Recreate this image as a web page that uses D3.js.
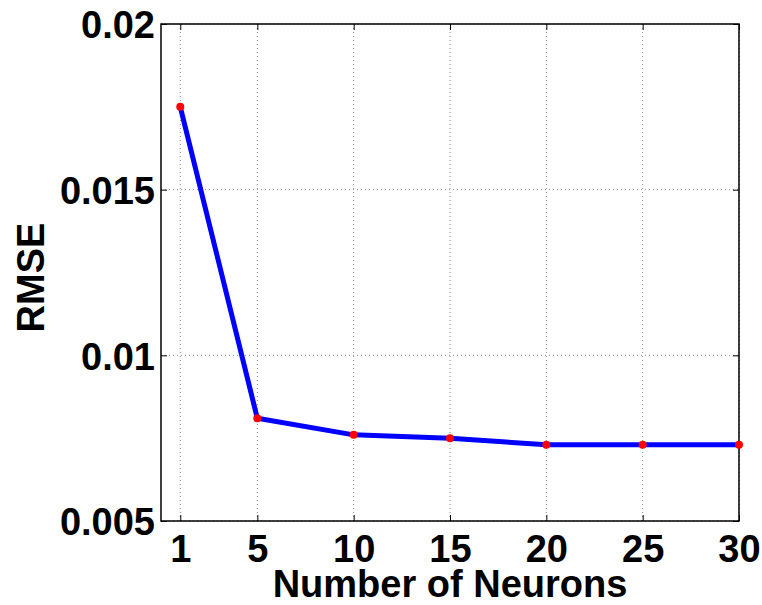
<!DOCTYPE html>
<html>
<head>
<meta charset="utf-8">
<script src="https://cdn.jsdelivr.net/npm/d3@7"></script>
<style>
  html, body { margin: 0; padding: 0; background: #fff; }
  svg text { font-family: "Liberation Sans", Arial, Helvetica, sans-serif; font-weight: bold; fill: #000; }
</style>
</head>
<body>
<svg id="chart" width="762" height="605"></svg>
<script>
// RMSE versus hidden-layer size
const neurons = [1, 5, 10, 15, 20, 25, 30];
const rmse = [0.0175, 0.0081, 0.0076, 0.0075, 0.0073, 0.0073, 0.0073];
const xTicks = [1, 5, 10, 15, 20, 25, 30];
const yTicks = [0.005, 0.01, 0.015, 0.02];
const yTickLabels = ["0.005", "0.01", "0.015", "0.02"];

const svg = d3.select("#chart");
const plotL = 161, plotR = 739, plotT = 24, plotB = 521;

const x = d3.scaleLinear().domain([0, 30]).range([plotL, plotR]);
const y = d3.scaleLinear().domain([0.005, 0.02]).range([plotB, plotT]);

// dotted grid
const grid = svg.append("g").attr("stroke", "#8c8c8c").attr("stroke-width", 1)
  .attr("stroke-dasharray", "1,3");
grid.selectAll(".gx").data(xTicks).join("line")
  .attr("x1", d => x(d)).attr("x2", d => x(d)).attr("y1", plotT).attr("y2", plotB);
grid.selectAll(".gy").data(yTicks).join("line")
  .attr("y1", d => y(d)).attr("y2", d => y(d)).attr("x1", plotL).attr("x2", plotR);

// axes with inward ticks on all four sides
const tickLen = 6;
const axFont = "38px";
svg.append("g").attr("transform", `translate(0,${plotB})`)
  .call(d3.axisBottom(x).tickValues(xTicks).tickSizeInner(-tickLen).tickSizeOuter(0).tickPadding(14))
  .call(g => g.select(".domain").remove())
  .call(g => g.selectAll("text").style("font-size", axFont).attr("font-family", null));
svg.append("g").attr("transform", `translate(0,${plotT})`)
  .call(d3.axisTop(x).tickValues(xTicks).tickSizeInner(-tickLen).tickSizeOuter(0).tickFormat(""))
  .call(g => g.select(".domain").remove());
svg.append("g").attr("transform", `translate(${plotL},0)`)
  .call(d3.axisLeft(y).tickValues(yTicks).tickSizeInner(-tickLen).tickSizeOuter(0).tickPadding(6)
    .tickFormat((d, i) => yTickLabels[i]))
  .call(g => g.select(".domain").remove())
  .call(g => g.selectAll("text").style("font-size", axFont).attr("font-family", null).attr("dy", "0.36em"));
svg.append("g").attr("transform", `translate(${plotR},0)`)
  .call(d3.axisRight(y).tickValues(yTicks).tickSizeInner(-tickLen).tickSizeOuter(0).tickFormat(""))
  .call(g => g.select(".domain").remove());
svg.selectAll(".tick line").attr("stroke", "#000").attr("stroke-width", 1);

// frame
svg.append("rect").attr("x", plotL).attr("y", plotT)
  .attr("width", plotR - plotL).attr("height", plotB - plotT)
  .attr("fill", "none").attr("stroke", "#000").attr("stroke-width", 1.5);

// series line and markers
const pts = neurons.map((n, i) => [n, rmse[i]]);
svg.append("path").datum(pts)
  .attr("fill", "none").attr("stroke", "#0000ff").attr("stroke-width", 5)
  .attr("stroke-linejoin", "round")
  .attr("d", d3.line().x(d => x(d[0])).y(d => y(d[1])));
svg.selectAll(".pt").data(pts).join("circle")
  .attr("cx", d => x(d[0])).attr("cy", d => y(d[1])).attr("r", 4)
  .attr("fill", "#ff0000");

// axis titles
svg.append("text").attr("x", (plotL + plotR) / 2).attr("y", 597)
  .attr("text-anchor", "middle").style("font-size", "38px").text("Number of Neurons");
svg.append("text").attr("transform", `translate(44,${(plotT + plotB) / 2 + 5}) rotate(-90)`)
  .attr("text-anchor", "middle").style("font-size", "38px").text("RMSE");
</script>
</body>
</html>
